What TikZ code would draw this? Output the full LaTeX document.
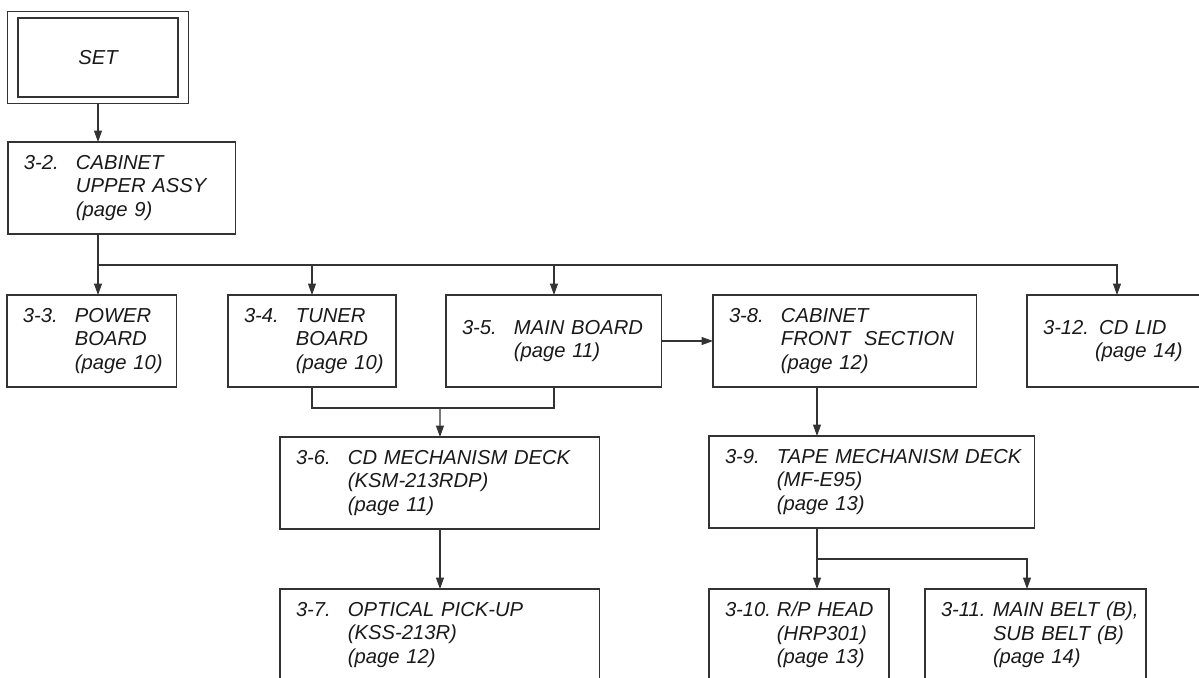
\documentclass[tikz,border=0pt]{standalone}
\usepackage{fontspec}
\setmainfont{Liberation Sans}
\usetikzlibrary{positioning,fit,arrows.meta}

\newlength{\numwd}
\setlength{\numwd}{1.04cm}
\newcommand{\num}[1]{\makebox[\numwd][l]{#1}}
\newcommand{\ind}{\hspace*{\numwd}}
\hyphenpenalty=10000
\exhyphenpenalty=10000

\begin{document}
\begin{tikzpicture}[
    x=0.02cm, y=-0.02cm,
    every node/.style={font=\fontsize{11.5pt}{13.4pt}\selectfont\itshape, text=black!90},
    box/.style={draw=black!80, line width=0.6pt, text width=#1, inner xsep=0.32cm,
        inner ysep=0pt, minimum height=1.84cm, anchor=north west, align=left, outer sep=0pt},
    arr/.style={draw=black!80, line width=0.6pt, -{Triangle[length=0.23cm, width=0.16cm]}},
    line/.style={draw=black!80, line width=0.6pt}
]
\useasboundingbox (0,0) rectangle (1199,677);
\clip (0,0) rectangle (1199,677);

% top
\node[draw=black!80, line width=0.6pt, minimum width=3.2cm, minimum height=1.58cm, outer sep=0pt] (set) at (98,57.5) {SET};
\node[draw=black!80, line width=0.6pt, fit=(set), inner xsep=0.21cm, inner ysep=0.13cm, outer sep=0pt] (setframe) {};

\node[box=3.92cm] (upper) at (8,142) {\num{3-2.}CABINET\\\ind \mbox{UPPER ASSY}\\\ind \mbox{(page 9)}};

% second row
\node[box=2.76cm] (power) at (7,295) {\num{3-3.}POWER\\\ind BOARD\\\ind \mbox{(page 10)}};
\node[box=2.72cm] (tuner) at (228,295) {\num{3-4.}TUNER\\\ind BOARD\\\ind \mbox{(page 10)}};
\node[box=3.68cm] (main) at (446,295) {\num{3-5.}\mbox{MAIN BOARD}\\\ind \mbox{(page 11)}};
\node[box=4.64cm] (cabfront) at (713,295) {\num{3-8.}CABINET\\\ind \mbox{FRONT\ \ SECTION}\\\ind \mbox{(page 12)}};
\node[box=2.96cm] (cdlid) at (1027,295) {\mbox{3-12. CD LID}\\\ind \mbox{(page 14)}};

% CD side
\node[box=5.76cm] (cdmech) at (280,437) {\num{3-6.}\mbox{CD MECHANISM DECK}\\\ind (KSM-213RDP)\\\ind \mbox{(page 11)}};
\node[box=5.76cm] (optical) at (280,589) {\num{3-7.}\mbox{OPTICAL PICK-UP}\\\ind (KSS-213R)\\\ind \mbox{(page 12)}};

% tape side
\node[box=5.88cm] (tape) at (709,436) {\num{3-9.}\mbox{TAPE MECHANISM DECK}\\\ind (MF-E95)\\\ind \mbox{(page 13)}};
\node[box=2.96cm] (rphead) at (709,589) {\num{3-10.}\mbox{R/P HEAD}\\\ind (HRP301)\\\ind \mbox{(page 13)}};
\node[box=3.78cm] (belt) at (925,589) {\num{3-11.}\mbox{MAIN BELT (B),}\\\ind \mbox{SUB BELT (B)}\\\ind \mbox{(page 14)}};

\coordinate (trunk) at (98,265);
\coordinate (merge) at (440,408);
\coordinate (tsplit) at (817,559);
\coordinate (bsplit) at (1027,559);

% connectors
\draw[arr] (setframe.south) -- (setframe.south |- upper.north);
\draw[line] (upper.south -| trunk) -- (trunk);
\draw[arr] (trunk) -| (cdlid.north);
\draw[arr] (trunk) -- (trunk |- power.north);
\draw[arr] (trunk -| tuner.north) -- (tuner.north);
\draw[arr] (trunk -| main.north) -- (main.north);
\draw[arr] (main.east) -- (cabfront.west);

\draw[line] (tuner.south) |- (merge) -| (main.south);
\draw[arr] (merge) -- (cdmech.north);
\draw[arr] (cdmech.south) -- (optical.north);

\draw[arr] (cabfront.south -| tsplit) -- (tape.north -| tsplit);
\draw[arr] (tape.south -| tsplit) -- (rphead.north -| tsplit);
\draw[arr] (tsplit) -| (bsplit |- belt.north);
\end{tikzpicture}
\end{document}
